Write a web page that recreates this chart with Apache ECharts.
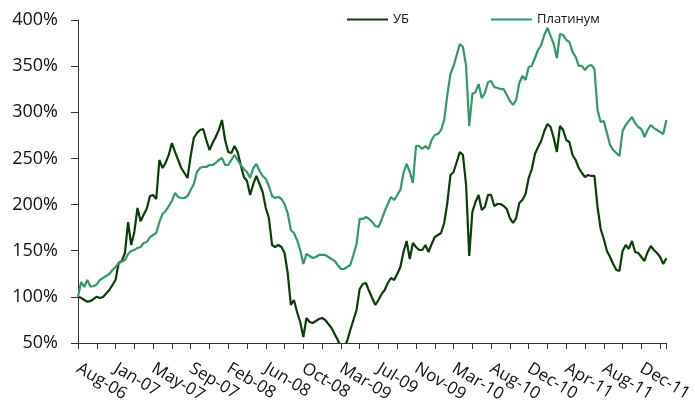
<!DOCTYPE html>
<html>
<head>
<meta charset="utf-8">
<script src="https://cdn.jsdelivr.net/npm/echarts@6/dist/echarts.min.js"></script>
<style>
  html, body { margin: 0; padding: 0; background: #fff; }
  #chart { width: 695px; height: 404px; }
</style>
</head>
<body>
<div id="chart"></div>
<script>
// tick labels, one every 12 samples
const xLabels = ['Aug-06', 'Jan-07', 'May-07', 'Sep-07', 'Feb-08', 'Jun-08', 'Oct-08', 'Mar-09',
  'Jul-09', 'Nov-09', 'Mar-10', 'Aug-10', 'Dec-10', 'Apr-11', 'Aug-11', 'Dec-11']

// УБ, % of start value
const ubValues = [
  100, 99, 96.6, 94.8, 95.5, 97.7, 100.2, 98.8, 99.8, 103.6,
  107.4, 112.8, 118.3, 136.7, 138.9, 147.5, 181, 156.2, 170.3, 196.3,
  181.8, 189.2, 195.7, 209.3, 210.4, 206, 248.3, 239.6, 245.1, 253.8,
  266.7, 257, 248.3, 239.6, 234.2, 228.8, 252.6, 272.1, 277.6, 280.8,
  281.9, 270, 259.1, 266.7, 273.2, 280.8, 291.6, 270, 257, 255.9,
  263.5, 257, 242.9, 229.9, 225.5, 210.4, 222.3, 231, 222.3, 213.6,
  196.3, 185.4, 156.2, 154, 156.2, 154, 147.5, 125.9, 91.2, 96.6,
  83.6, 72.8, 56.5, 77.1, 72.8, 71.7, 73.8, 76, 77.1, 74.9,
  70.6, 66.3, 59.8, 53.3, 45.7, 44.6, 52.2, 64.1, 74.9, 85.8,
  108.5, 113.9, 115, 106.3, 98.8, 91.2, 96.6, 103.1, 107.4, 115,
  120.4, 118.3, 124.8, 132.4, 148.6, 160.5, 141, 158.4, 154, 150.8,
  150.8, 156.2, 148.6, 157.3, 164.9, 167, 169.2, 180, 201.7, 232,
  235.3, 246.1, 257, 253.7, 221.2, 144.3, 191.9, 202.8, 210.4, 194.1,
  197.4, 210.4, 210.4, 198.5, 200.6, 200.6, 198.5, 195.2, 185.4, 180,
  185.4, 201.7, 205, 211.5, 228.8, 238.5, 254.8, 262.4, 268.9, 279.7,
  287.3, 284, 272.1, 257, 285.1, 280.8, 270, 267.8, 253.7, 248.3,
  239.6, 234.2, 229.9, 232, 231, 231, 197.4, 173.5, 162.7, 149.7,
  143.2, 135.6, 129.1, 128.1, 149.7, 156.2, 151.9, 160.5, 148.6, 147.5,
  143.2, 138.9, 148.6, 155.1, 150.8, 147.5, 143.2, 135.6, 141.9
]

// Платинум, % of start value
const platinumValues = [
  100, 116, 110.7, 118.3, 111, 111.8, 113.4, 118.3, 120.4, 122.6,
  124.8, 129.1, 132.4, 136.7, 138.3, 140, 146.5, 149.7, 150.8, 153,
  154, 158.4, 159.4, 164.8, 167, 169.2, 181, 189.7, 193, 198.4,
  203.9, 212.6, 208.2, 207.1, 207.1, 209.3, 215.8, 222.3, 235.3, 239.6,
  241, 240.7, 242.9, 242.9, 245.1, 248.3, 250.5, 242.9, 242.9, 248.3,
  253.7, 248.3, 242.9, 238.5, 235.3, 228.8, 239.6, 244, 236.4, 231,
  227.7, 220.1, 209.3, 207.1, 208.2, 206, 200.6, 190.8, 172.5, 169.2,
  161.6, 150.8, 135.6, 146.5, 144.3, 142.1, 143.2, 145.4, 145.4, 145.4,
  143.2, 141, 138.9, 134.5, 130.2, 130.2, 132.4, 134.5, 145.4, 157.3,
  184.4, 184.4, 186.5, 184.4, 181.1, 176.8, 175.7, 183.3, 193, 200.6,
  208.2, 204.9, 210.4, 215.8, 234.2, 244, 235.3, 223.4, 263.5, 263.5,
  260.2, 263.5, 260.2, 270, 275.4, 276.5, 280.8, 291.6, 318.7, 341.5,
  350.2, 362.1, 374, 370.7, 350.2, 285.1, 319.8, 321.9, 330.6, 315.5,
  320.9, 332.8, 333.9, 327.4, 326.3, 325.2, 325.2, 318.7, 312.2, 308,
  313.3, 331.7, 339.3, 335, 349.1, 350.2, 358.8, 367.5, 372.9, 383.8,
  391.4, 382.7, 374, 358.8, 384.9, 383.8, 378.3, 376.2, 365.4, 360.1,
  350.2, 350.2, 345.8, 350.2, 351.3, 346.9, 302.5, 289.5, 290.5, 277.6,
  264.5, 259.1, 255.9, 252.6, 279.7, 286.2, 290.5, 294.9, 288.4, 284,
  281.9, 273.2, 280.8, 286.2, 282.9, 280.8, 278.6, 276.5, 291.6
]

const categories = ubValues.map((_, i) => i)
const LABEL_STEP = 12
const FONT = '"Open Sans", sans-serif'
const AXIS_COLOR = '#333'

const chart = echarts.init(document.getElementById('chart'), null, { renderer: 'canvas' })

chart.setOption({
  animation: false,
  backgroundColor: '#fff',
  textStyle: { fontFamily: FONT },
  grid: { left: 78, right: 28.6, top: 20, bottom: 61, containLabel: false, outerBoundsMode: 'none' },
  legend: {
    left: 342,
    top: 8,
    icon: 'rect',
    itemWidth: 41,
    itemHeight: 2,
    itemGap: 82,
    textStyle: { fontFamily: FONT, fontSize: 13, color: '#111' },
    data: ['УБ', 'Платинум']
  },
  xAxis: {
    type: 'category',
    data: categories,
    boundaryGap: false,
    axisLine: { lineStyle: { color: AXIS_COLOR, width: 1 } },
    axisTick: {
      length: 6,
      lineStyle: { color: AXIS_COLOR },
      interval: (i) => i % (LABEL_STEP / 2) === 0 || i === categories.length - 1
    },
    axisLabel: {
      interval: LABEL_STEP - 1,
      rotate: -31,
      margin: 24,
      fontSize: 17,
      color: '#111',
      fontFamily: FONT,
      formatter: (value, index) => xLabels[index / LABEL_STEP] ?? ''
    },
    splitLine: { show: false }
  },
  yAxis: {
    type: 'value',
    min: 50,
    max: 400,
    interval: 50,
    axisLine: { show: true, lineStyle: { color: AXIS_COLOR, width: 1 } },
    axisTick: { show: true, length: 7, lineStyle: { color: AXIS_COLOR } },
    axisLabel: {
      margin: 20,
      fontSize: 18,
      color: '#111',
      fontFamily: FONT,
      formatter: '{value}%'
    },
    splitLine: { show: false }
  },
  series: [
    {
      name: 'УБ',
      type: 'line',
      data: ubValues,
      symbol: 'none',
      clip: true,
      color: '#0b3d0b',
      lineStyle: { color: '#0b3d0b', width: 2.2 }
    },
    {
      name: 'Платинум',
      type: 'line',
      data: platinumValues,
      symbol: 'none',
      clip: true,
      color: '#339966',
      lineStyle: { color: '#339966', width: 2.2 }
    }
  ]
})
</script>
</body>
</html>
